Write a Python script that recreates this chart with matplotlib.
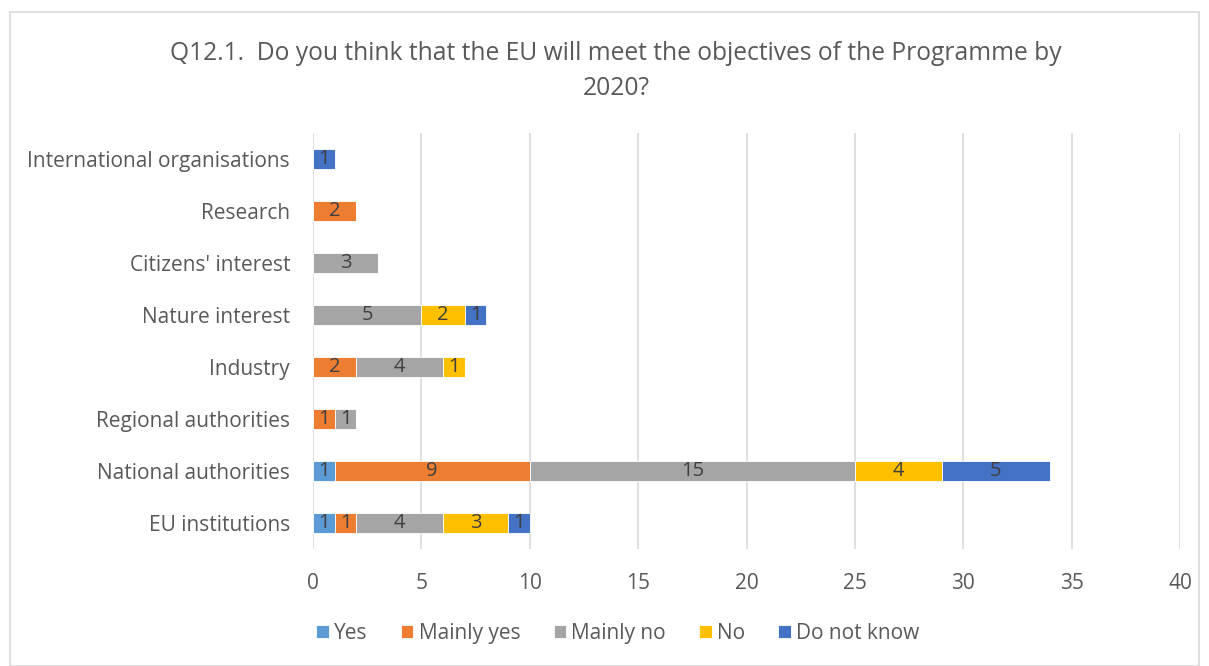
import matplotlib.pyplot as plt
import numpy as np
from matplotlib.patches import Rectangle

plt.rcParams['font.family'] = ['Open Sans', 'DejaVu Sans']

categories = ["EU institutions", "National authorities", "Regional authorities", "Industry",
              "Nature interest", "Citizens' interest", "Research", "International organisations"]
answers = ["Yes", "Mainly yes", "Mainly no", "No", "Do not know"]
yes = [1, 1, 0, 0, 0, 0, 0, 0]
mainly_yes = [1, 9, 1, 2, 0, 0, 2, 0]
mainly_no = [4, 15, 1, 4, 5, 3, 0, 0]
no = [3, 4, 0, 1, 2, 0, 0, 0]
dont_know = [1, 5, 0, 0, 1, 0, 0, 1]
colors = ["#5B9BD5", "#ED7D31", "#A5A5A5", "#FFC000", "#4472C4"]

fig = plt.figure(figsize=(12.09, 6.66), dpi=100)
fig.patches.append(Rectangle((10 / 1209, 0), 1189 / 1209, 654 / 666, transform=fig.transFigure,
                             fill=False, edgecolor="#d9d9d9", linewidth=1.2))
ax = fig.add_axes([0.2589, 0.1757, 0.7172, 0.6246])

y = np.arange(len(categories))
left = np.zeros(len(categories))
for name, vals, c in zip(answers, [yes, mainly_yes, mainly_no, no, dont_know], colors):
    vals = np.array(vals)
    bars = ax.barh(y, vals, left=left, height=0.4, color=c, edgecolor="white", linewidth=0.6, label=name)
    for b, v in zip(bars, vals):
        if v > 0:
            ax.text(b.get_x() + b.get_width() / 2, b.get_y() + b.get_height() / 2, str(v),
                    ha="center", va="center", fontsize=14.5, color="#404040")
    left += vals

ax.set_xlim(0, 40)
ax.set_ylim(-0.5, len(categories) - 0.5)
ax.set_xticks(range(0, 41, 5))
ax.set_yticks(y)
ax.set_yticklabels(categories)
ax.tick_params(axis="both", length=0, labelsize=15, labelcolor="#595959")
ax.tick_params(axis="x", pad=17)
ax.tick_params(axis="y", pad=16.5)
ax.grid(axis="x", color="#d9d9d9", linewidth=1.2)
ax.set_axisbelow(True)
for s in ax.spines.values():
    s.set_visible(False)

fig.text(0.5096, 0.919, "Q12.1.  Do you think that the EU will meet the objectives of the Programme by",
         ha="center", va="center", fontsize=17.7, color="#595959")
fig.text(0.5096, 0.867, "2020?", ha="center", va="center", fontsize=17.7, color="#595959")

fig.legend(loc="center", bbox_to_anchor=(0.511, 0.049), ncol=5, frameon=False, fontsize=15,
           handlelength=0.6, handleheight=0.6, handletextpad=0.25, columnspacing=1.6,
           labelcolor="#595959")

fig.savefig("out.png", dpi=100)
